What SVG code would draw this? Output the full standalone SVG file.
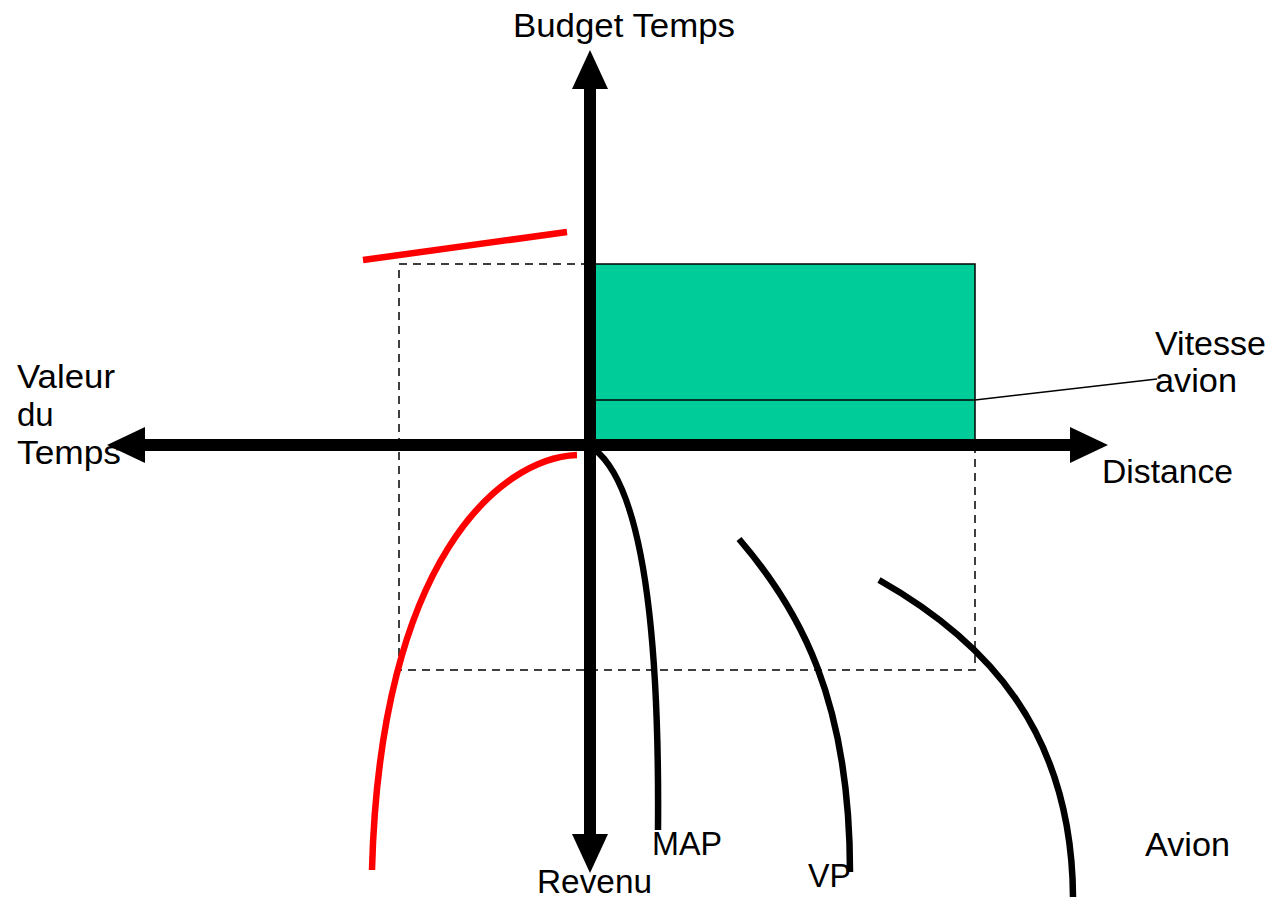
<svg xmlns="http://www.w3.org/2000/svg" width="1274" height="899" viewBox="0 0 1274 899">
<style>
text{font-family:"Liberation Sans",Arial,sans-serif;font-size:33px;fill:#000}
.axis{stroke:#000;stroke-width:12;fill:none}
.dash{stroke:#000;stroke-width:1.5;stroke-dasharray:8,6;fill:none}
.curve{stroke:#000;stroke-width:6.5;fill:none}
.red{stroke:#ff0000;stroke-width:6.5;fill:none}
.head{fill:#000}
</style>
<rect width="1274" height="899" fill="#fff"/>
<g id="dashed-guides">
<path class="dash" d="M399,670 V264 H590 M975,445 V670 H399"/>
</g>
<g id="budget-box">
<rect x="590" y="264" width="385" height="181" fill="#00cc99" stroke="#000" stroke-width="1.5"/>
<line x1="590" y1="400" x2="975" y2="400" stroke="#000" stroke-width="1.5"/>
</g>
<g id="connectors">
<line class="axis" x1="590" y1="88" x2="590" y2="836"/>
<line class="axis" x1="144" y1="445" x2="1071" y2="445"/>
<polygon class="head" points="590,50 572,89 608,89"/>
<polygon class="head" points="590,873 572,834 608,834"/>
<polygon class="head" points="107,445 145,427 145,463"/>
<polygon class="head" points="1108,445 1070,427 1070,463"/>
<line x1="975" y1="400" x2="1157" y2="379" stroke="#000" stroke-width="1.5"/>
<line class="red" x1="363" y1="260" x2="567" y2="232"/>
<path class="red" d="M577,455 C500,458 380,560 372,870"/>
<path class="curve" d="M594,449 C632,478 660,580 658,830"/>
<path class="curve" d="M739,539 C800,610 850,700 850,872"/>
<path class="curve" d="M879,580 C985,640 1072,730 1073,897"/>
</g>
<g id="labels">
<text x="513" y="37" textLength="222" lengthAdjust="spacingAndGlyphs">Budget Temps</text>
<text x="17" y="388" textLength="98" lengthAdjust="spacingAndGlyphs">Valeur</text>
<text x="17" y="426">du</text>
<text x="17" y="464" textLength="104" lengthAdjust="spacingAndGlyphs">Temps</text>
<text x="1155" y="355" textLength="111" lengthAdjust="spacingAndGlyphs">Vitesse</text>
<text x="1155" y="392" textLength="82" lengthAdjust="spacingAndGlyphs">avion</text>
<text x="1102" y="483" textLength="131" lengthAdjust="spacingAndGlyphs">Distance</text>
<text x="652" y="855" textLength="70" lengthAdjust="spacingAndGlyphs">MAP</text>
<text x="537" y="893" textLength="115" lengthAdjust="spacingAndGlyphs">Revenu</text>
<text x="808" y="887" textLength="43" lengthAdjust="spacingAndGlyphs">VP</text>
<text x="1145" y="856" textLength="85" lengthAdjust="spacingAndGlyphs">Avion</text>
</g>
</svg>
